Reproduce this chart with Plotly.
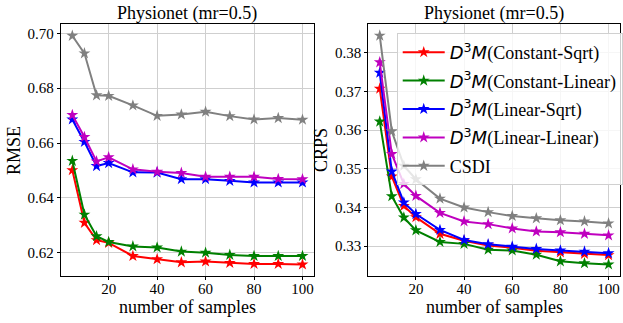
import plotly.graph_objects as go

samples = [5, 10, 15, 20, 30, 40, 50, 60, 70, 80, 90, 100]

names = ["Constant-Sqrt", "Constant-Linear", "Linear-Sqrt", "Linear-Linear", "CSDI"]
colors = ["#ff0000", "#008000", "#0000ff", "#bf00bf", "#808080"]

rmse_const_sqrt = [0.6501, 0.6309, 0.6246, 0.6236, 0.6188, 0.6176, 0.6165, 0.6168, 0.6163, 0.6159, 0.6159, 0.6157]
rmse_const_lin = [0.6535, 0.6339, 0.6260, 0.6239, 0.6223, 0.6219, 0.6204, 0.6200, 0.6192, 0.6188, 0.6188, 0.6188]
rmse_lin_sqrt = [0.6686, 0.6604, 0.6516, 0.6527, 0.6493, 0.6492, 0.6468, 0.6468, 0.6462, 0.6456, 0.6456, 0.6456]
rmse_lin_lin = [0.6702, 0.6622, 0.6533, 0.6548, 0.6504, 0.6495, 0.6491, 0.6477, 0.6477, 0.6477, 0.6469, 0.6468]
rmse_csdi = [0.6991, 0.6927, 0.6774, 0.6772, 0.6737, 0.6699, 0.6704, 0.6714, 0.6698, 0.6686, 0.6691, 0.6685]

crps_const_sqrt = [0.3707, 0.3480, 0.3404, 0.3375, 0.3332, 0.3314, 0.3302, 0.3296, 0.3288, 0.3284, 0.3280, 0.3277]
crps_const_lin = [0.3622, 0.3429, 0.3374, 0.3341, 0.3311, 0.3306, 0.3291, 0.3289, 0.3278, 0.3261, 0.3256, 0.3253]
crps_lin_sqrt = [0.3748, 0.3493, 0.3413, 0.3383, 0.3342, 0.3316, 0.3305, 0.3299, 0.3293, 0.3289, 0.3286, 0.3282]
crps_lin_lin = [0.3775, 0.3538, 0.3461, 0.3430, 0.3386, 0.3364, 0.3357, 0.3346, 0.3338, 0.3336, 0.3332, 0.3328]
crps_csdi = [0.3844, 0.3597, 0.3508, 0.3473, 0.3423, 0.3400, 0.3388, 0.3378, 0.3372, 0.3367, 0.3364, 0.3359]

rmse = [rmse_const_sqrt, rmse_const_lin, rmse_lin_sqrt, rmse_lin_lin, rmse_csdi]
crps = [crps_const_sqrt, crps_const_lin, crps_lin_sqrt, crps_lin_lin, crps_csdi]

SERIF = "Liberation Serif, Times New Roman, Times, serif"
SANS = "DejaVu Sans"

def label(n):
    if n == "CSDI":
        return "CSDI"
    return f'<span style="font-family:{SANS}"><i>D</i><sup>3</sup><i>M</i></span>({n})'

fig = go.Figure()
for i, n in enumerate(names):
    fig.add_trace(go.Scatter(x=samples, y=rmse[i], mode="lines+markers", name=label(n),
                             line=dict(color=colors[i], width=2),
                             marker=dict(symbol="star", size=9, color=colors[i]),
                             xaxis="x", yaxis="y", showlegend=False))
for i, n in enumerate(names):
    fig.add_trace(go.Scatter(x=samples, y=crps[i], mode="lines+markers", name=label(n),
                             line=dict(color=colors[i], width=2),
                             marker=dict(symbol="star", size=9, color=colors[i]),
                             xaxis="x2", yaxis="y2", legendgroup=n, showlegend=True))

W, H = 623, 323
ax_common = dict(showline=True, mirror=True, linecolor="black", linewidth=1,
                 ticks="outside", ticklen=3, tickcolor="black",
                 showgrid=True, gridcolor="#cfcfcf", gridwidth=1, zeroline=False,
                 tickfont=dict(family=SERIF, size=15, color="black"))
xax_extra = dict(ticklabelstandoff=-4)

fig.update_layout(
    width=W, height=H,
    margin=dict(l=0, r=0, t=0, b=0),
    paper_bgcolor="white", plot_bgcolor="white",
    font=dict(family=SERIF, color="black"),
    xaxis=dict(domain=[61 / W, 315 / W], range=[0.25, 104.75], tickvals=[20, 40, 60, 80, 100], anchor="y",
               **ax_common, **xax_extra),
    yaxis=dict(domain=[1 - 276 / H, 1 - 24 / H], range=[0.6115, 0.7034], tickvals=[0.62, 0.64, 0.66, 0.68, 0.70],
               tickformat=".2f", anchor="x", **ax_common),
    xaxis2=dict(domain=[369.5 / W, 622 / W], range=[0.25, 104.75], tickvals=[20, 40, 60, 80, 100], anchor="y2",
                **ax_common, **xax_extra),
    yaxis2=dict(domain=[1 - 276 / H, 1 - 24 / H], range=[0.3223, 0.3874], tickvals=[0.33, 0.34, 0.35, 0.36, 0.37, 0.38],
                tickformat=".2f", anchor="x2", **ax_common),
    legend=dict(x=398 / W, y=1 - 33 / H, xanchor="left", yanchor="top",
                bgcolor="rgba(255,255,255,0.8)", bordercolor="#d0d0d0", borderwidth=1,
                font=dict(family=SERIF, size=18, color="black"),
                itemwidth=42,
                traceorder="grouped", tracegroupgap=2),
)

ann = [
    dict(text="Physionet (mr=0.5)", x=188 / W, y=1 - 13 / H, size=18, angle=0),
    dict(text="Physionet (mr=0.5)", x=496 / W, y=1 - 13 / H, size=18, angle=0),
    dict(text="number of samples", x=188 / W, y=1 - 307 / H, size=18, angle=0),
    dict(text="number of samples", x=496 / W, y=1 - 307 / H, size=18, angle=0),
    dict(text="RMSE", x=14 / W, y=1 - 150 / H, size=18, angle=-90),
    dict(text="CRPS", x=322 / W, y=1 - 150 / H, size=18, angle=-90),
]
for a in ann:
    fig.add_annotation(text=a["text"], x=a["x"], y=a["y"], xref="paper", yref="paper",
                       xanchor="center", yanchor="middle", showarrow=False, textangle=a["angle"],
                       font=dict(family=SERIF, size=a["size"], color="black"))

fig.write_html("out.html")
